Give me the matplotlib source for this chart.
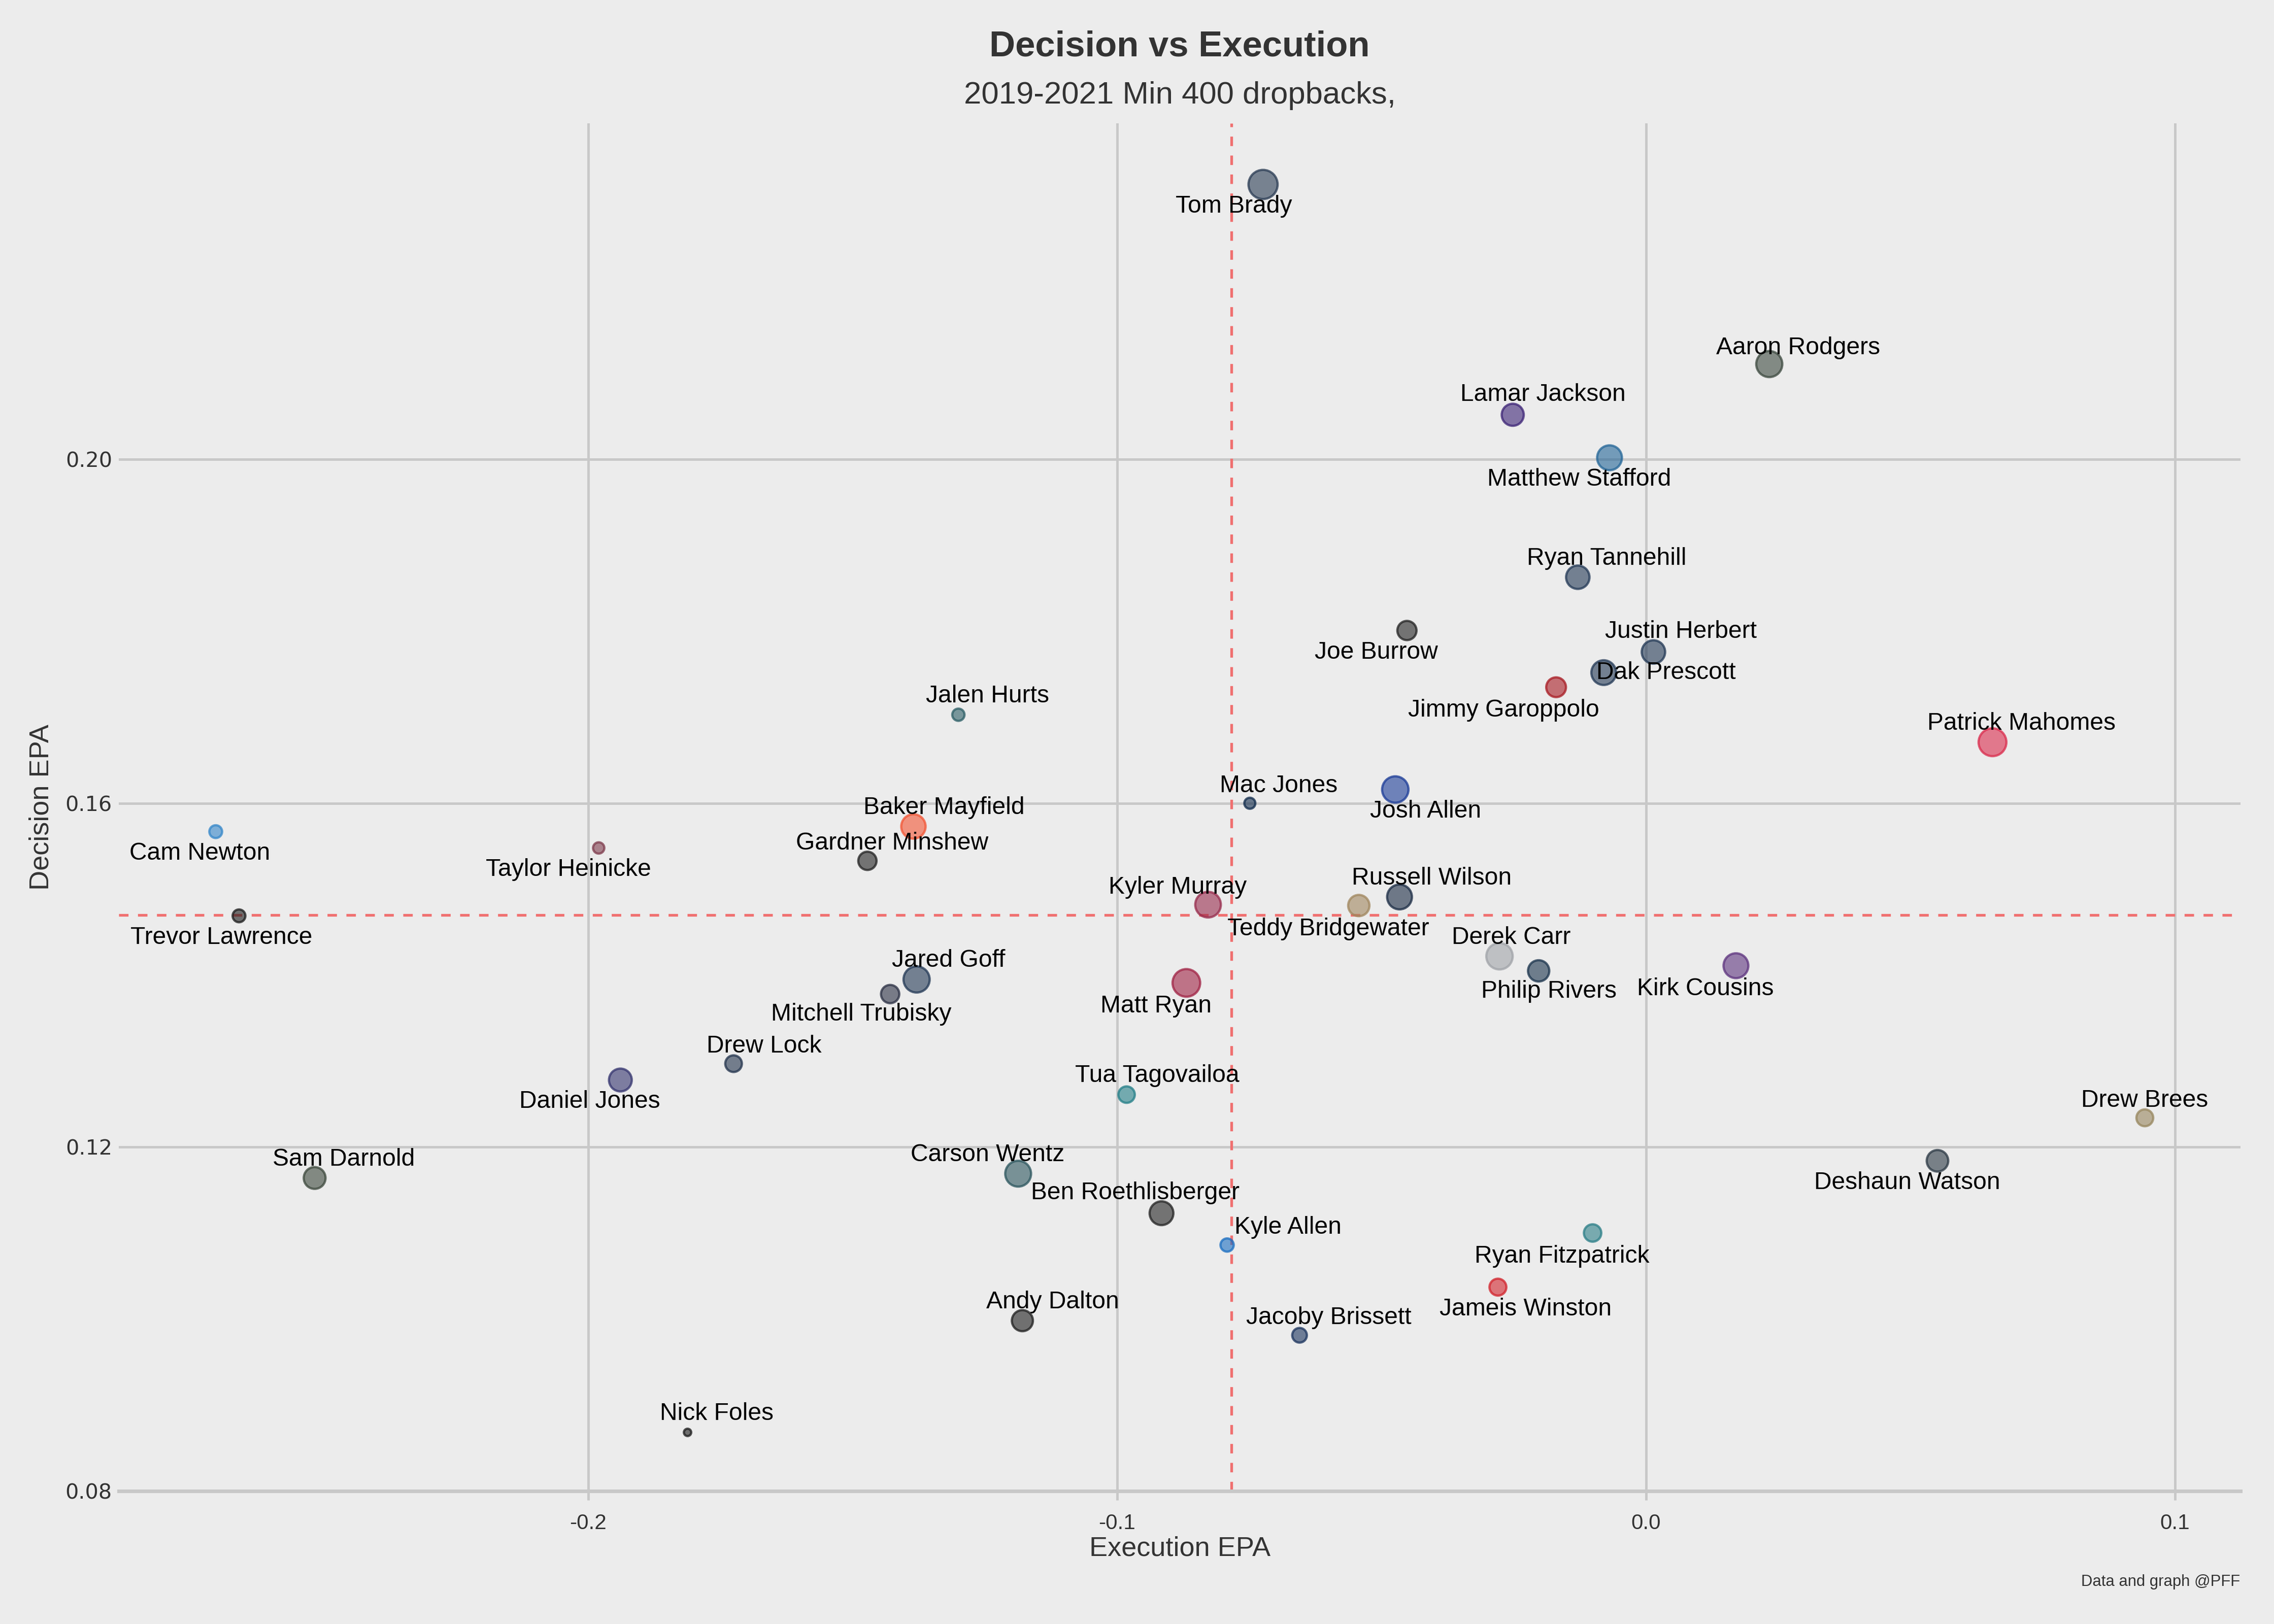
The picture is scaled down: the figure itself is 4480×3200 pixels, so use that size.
import matplotlib
matplotlib.use("Agg")
import matplotlib.pyplot as plt
from matplotlib.colors import to_rgba

# ---------------- data ----------------
players = ["Tom Brady", "Aaron Rodgers", "Lamar Jackson", "Matthew Stafford", "Ryan Tannehill",
           "Joe Burrow", "Justin Herbert", "Dak Prescott", "Jimmy Garoppolo", "Jalen Hurts",
           "Patrick Mahomes", "Mac Jones", "Josh Allen", "Cam Newton", "Baker Mayfield",
           "Taylor Heinicke", "Gardner Minshew", "Trevor Lawrence", "Kyler Murray", "Teddy Bridgewater",
           "Russell Wilson", "Derek Carr", "Philip Rivers", "Kirk Cousins", "Jared Goff",
           "Mitchell Trubisky", "Matt Ryan", "Drew Lock", "Daniel Jones", "Tua Tagovailoa",
           "Drew Brees", "Sam Darnold", "Deshaun Watson", "Carson Wentz", "Ben Roethlisberger",
           "Kyle Allen", "Ryan Fitzpatrick", "Jameis Winston", "Andy Dalton", "Jacoby Brissett",
           "Nick Foles"]

execution_epa = [-0.0724, 0.0233, -0.0252, -0.0069, -0.0129,
                 -0.0452, 0.0014, -0.0080, -0.0170, -0.1300,
                 0.0655, -0.0749, -0.0474, -0.2704, -0.1385,
                 -0.1980, -0.1472, -0.2660, -0.0828, -0.0543,
                 -0.0466, -0.0277, -0.0203, 0.0170, -0.1379,
                 -0.1429, -0.0869, -0.1725, -0.1939, -0.0982,
                 0.0943, -0.2517, 0.0551, -0.1187, -0.0916,
                 -0.0792, -0.0101, -0.0280, -0.1179, -0.0655,
                 -0.1812]

decision_epa = [0.2320, 0.2111, 0.2052, 0.2002, 0.1863,
                0.1801, 0.1776, 0.1752, 0.1735, 0.1703,
                0.1671, 0.1600, 0.1616, 0.1567, 0.1573,
                0.1548, 0.1533, 0.1469, 0.1482, 0.1481,
                0.1491, 0.1422, 0.1405, 0.1411, 0.1395,
                0.1378, 0.1391, 0.1297, 0.1278, 0.1261,
                0.1234, 0.1164, 0.1184, 0.1169, 0.1123,
                0.1086, 0.1100, 0.1037, 0.0998, 0.0981,
                0.0868]

dropbacks = [1850, 1550, 1210, 1440, 1320,
             1000, 1320, 1430, 1040, 615,
             1720, 565, 1580, 640, 1400,
             575, 940, 640, 1510, 1150,
             1440, 1580, 1150, 1440, 1560,
             940, 1700, 840, 1270, 830,
             850, 1190, 1170, 1530, 1350,
             660, 885, 855, 1135, 730,
             445]

team_colors = ["#293B53", "#3C493F", "#3C2376", "#236597", "#223855",
               "#222222", "#223855", "#223855", "#A81A22", "#2B5D65",
               "#DA2B4C", "#0F2A4B", "#1A3B97", "#3386C9", "#F35433",
               "#7E3B4C", "#222222", "#1A1A1A", "#972B4C", "#A0865D",
               "#1A2B44", "#A0A3A8", "#1A334C", "#5D337E", "#223855",
               "#2B3044", "#A02244", "#22334C", "#33336E", "#227E87",
               "#97865D", "#3C483C", "#2B3844", "#2B555D", "#222222",
               "#1A6EC1", "#2B7E87", "#D2222B", "#1E1E1E", "#1A335D",
               "#1A1A1A"]

# average lines
avg_execution = -0.0784
avg_decision = 0.1470

# label offsets (reference pixels): layout only
label_offsets = {
    "Tom Brady": (-20, 15), "Aaron Rodgers": (20, -11), "Lamar Jackson": (21, -14),
    "Matthew Stafford": (-21, 15), "Ryan Tannehill": (20, -13), "Joe Burrow": (-21, 15),
    "Justin Herbert": (19, -14), "Dak Prescott": (43, 0), "Jimmy Garoppolo": (-36, 16),
    "Jalen Hurts": (20, -13), "Patrick Mahomes": (20, -13), "Mac Jones": (20, -12),
    "Josh Allen": (21, 15), "Cam Newton": (-11, 15), "Baker Mayfield": (21, -13),
    "Taylor Heinicke": (-21, 15), "Gardner Minshew": (17, -12), "Trevor Lawrence": (-12, 15),
    "Kyler Murray": (-21, -12), "Teddy Bridgewater": (-21, 16), "Russell Wilson": (22, -13),
    "Derek Carr": (8, -13), "Philip Rivers": (7, 14), "Kirk Cousins": (-21, 16),
    "Jared Goff": (22, -13), "Mitchell Trubisky": (-20, 14), "Matt Ryan": (-21, 16),
    "Drew Lock": (21, -12), "Daniel Jones": (-21, 15), "Tua Tagovailoa": (21, -13),
    "Drew Brees": (0, -12), "Sam Darnold": (20, -13), "Deshaun Watson": (-21, 15),
    "Carson Wentz": (-21, -13), "Ben Roethlisberger": (-18, -14), "Kyle Allen": (42, -12),
    "Ryan Fitzpatrick": (-21, 16), "Jameis Winston": (19, 15), "Andy Dalton": (21, -13),
    "Jacoby Brissett": (20, -12), "Nick Foles": (20, -13),
}

# ---------------- style ----------------
plt.rcParams['font.family'] = ['Liberation Sans', 'DejaVu Sans']
BG = "#ECECEC"
GRID = "#C8C8C8"
PX = 0.643  # reference small-pixel to points

fig = plt.figure(figsize=(14, 10), dpi=320, facecolor=BG)
ax = fig.add_axes([0.0523, 0.082, 0.9330, 0.842])
ax.set_facecolor(BG)

ax.set_xlim(-0.2887, 0.1124)
ax.set_ylim(0.08, 0.2391)
ax.set_xticks([-0.2, -0.1, 0.0, 0.1])
ax.set_xticklabels(["-0.2", "-0.1", "0.0", "0.1"])
ax.set_yticks([0.08, 0.12, 0.16, 0.20])
ax.set_yticklabels(["0.08", "0.12", "0.16", "0.20"], fontfamily="DejaVu Sans")
ax.grid(True, color=GRID, linewidth=1.1, zorder=0)
ax.set_axisbelow(True)
for s in ["top", "right", "left"]:
    ax.spines[s].set_visible(False)
ax.spines["bottom"].set_color(GRID)
ax.spines["bottom"].set_linewidth(1.6)
ax.tick_params(axis="x", colors=GRID, length=4, width=1.1, labelcolor="#333333", labelsize=9.5, pad=6)
ax.tick_params(axis="y", length=0, labelcolor="#333333", labelsize=9.3, pad=3)

ax.axvline(avg_execution, color="#F07070", linewidth=1.2, linestyle=(0, (3.5, 3.5)), zorder=1)
ax.axhline(avg_decision, color="#F07070", linewidth=1.2, linestyle=(0, (3.5, 3.5)), zorder=1)

sizes = [(d - 350) / 9.0 for d in dropbacks]
faces = [to_rgba(c, 0.6) for c in team_colors]
edges = [to_rgba(c, 0.75) for c in team_colors]
ax.scatter(execution_epa, decision_epa, s=sizes, facecolors=faces, edgecolors=edges,
           linewidths=1.0, zorder=3)

for name, x, y in zip(players, execution_epa, decision_epa):
    dx, dy = label_offsets[name]
    ax.annotate(name, (x, y), xytext=(dx * PX, -dy * PX), textcoords="offset points",
                ha="center", va="center", fontsize=10.8, color="black", zorder=4)

ax.set_xlabel("Execution EPA", fontsize=12.2, color="#333333", labelpad=1)
ax.set_ylabel("Decision EPA", fontsize=12.2, color="#333333", labelpad=5)

cx = 0.0523 + 0.9330 / 2
fig.text(cx, 0.971, "Decision vs Execution", ha="center", va="center",
         fontsize=15.9, fontweight="bold", color="#333333")
fig.text(cx, 0.941, "2019-2021 Min 400 dropbacks,", ha="center", va="center",
         fontsize=13.9, color="#333333")
fig.text(0.985, 0.026, "Data and graph @PFF", ha="right", va="center",
         fontsize=7, color="#333333")

fig.savefig("out.png", dpi=320, facecolor=BG)
